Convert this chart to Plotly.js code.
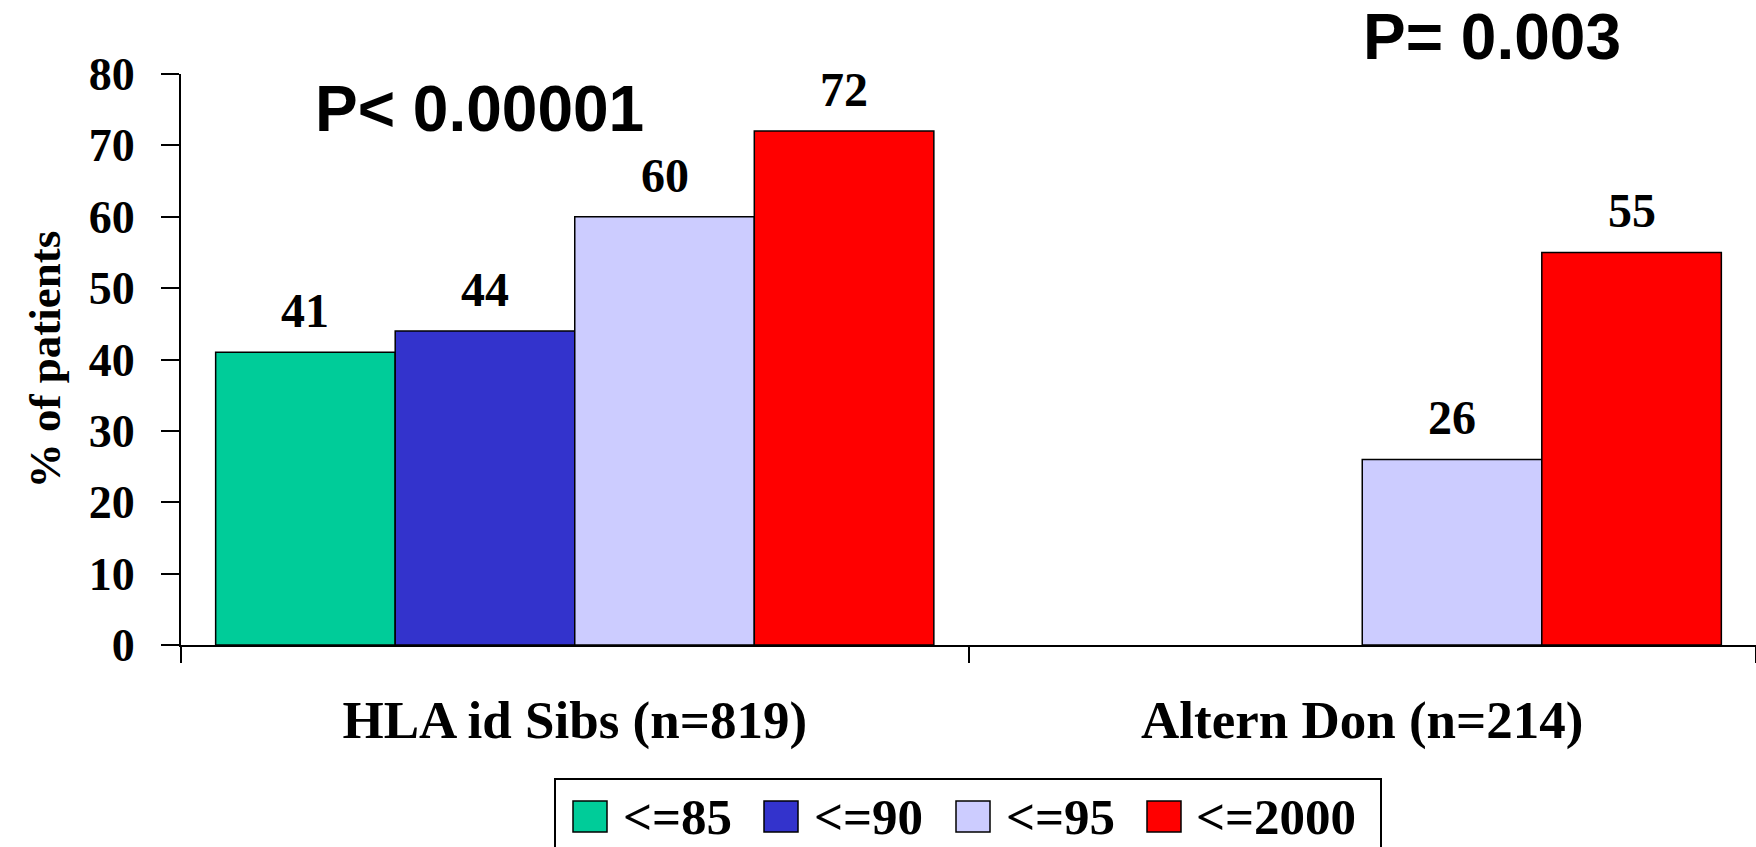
<!DOCTYPE html>
<html>
<head>
<meta charset="utf-8">
<script src="https://cdn.plot.ly/plotly-3.0.1.min.js"></script>
<style>
  html, body { margin: 0; padding: 0; background: #ffffff; }
  #chart { width: 1756px; height: 847px; }
</style>
</head>
<body>
<div id="chart"></div>
<script>
// Donor groups on the x axis
const groups = ["HLA id Sibs (n=819)", "Altern Don (n=214)"];
// Period series (legend labels)
const seriesNames = ["<=85", "<=90", "<=95", "<=2000"];
// % of patients per group, one array per period
const le85 = [41, null];
const le90 = [44, null];
const le95 = [60, 26];
const le2000 = [72, 55];
// P values written over each group
const pLabels = ["P< 0.00001", "P= 0.003"];
// y axis ticks
const yTicks = [0, 10, 20, 30, 40, 50, 60, 70, 80];

const seriesValues = [le85, le90, le95, le2000];
const seriesColors = ["#00CC99", "#3333CC", "#CCCCFF", "#FF0000"];

const W = 1756, H = 847;
const M = { l: 181, r: 0, t: 74, b: 202 };
const plotW = W - M.l - M.r, plotH = H - M.t - M.b;
const px2x = p => (p - M.l) / plotW;
const px2y = p => (H - M.b - p) / plotH;

const serif = "Liberation Serif, Times New Roman, serif";
const sans = "Liberation Sans, Arial, sans-serif";
const esc = s => s.replace(/</g, "&lt;");

const BARGAP = 0.088;

const traces = seriesNames.map((name, i) => ({
  type: "bar",
  name: name,
  x: groups,
  y: seriesValues[i],
  marker: { color: seriesColors[i], line: { color: "#000000", width: 1.5 } },
  showlegend: false,
  hoverinfo: "name+y"
}));

const annotations = [];
const slot = (1 - BARGAP) / seriesNames.length;
seriesValues.forEach((vals, i) => {
  vals.forEach((v, g) => {
    if (v === null) return;
    annotations.push({
      x: g + (i - (seriesNames.length - 1) / 2) * slot,
      y: v,
      xref: "x", yref: "y",
      text: String(v),
      showarrow: false,
      yanchor: "bottom",
      yshift: 13,
      font: { family: serif, size: 48, color: "#000000", weight: "bold" }
    });
  });
});

// P-value headings
const pPos = [[313, 109], [1361, 37]];
pLabels.forEach((t, i) => {
  annotations.push({
    x: px2x(pPos[i][0]), y: px2y(pPos[i][1]),
    xref: "paper", yref: "paper",
    xanchor: "left", yanchor: "middle",
    text: esc(t),
    showarrow: false,
    font: { family: sans, size: 64, color: "#000000", weight: "bold" }
  });
});

// Legend drawn as a framed row of swatches and labels
const shapes = [];
shapes.push({
  type: "rect", xref: "paper", yref: "paper",
  x0: px2x(555), x1: px2x(1381), y0: px2y(779), y1: px2y(930),
  line: { color: "#000000", width: 2 }, fillcolor: "rgba(0,0,0,0)"
});
const swatchLeft = [573, 764, 956, 1147];
const textLeft = [621, 812, 1004, 1194];
seriesNames.forEach((name, i) => {
  shapes.push({
    type: "rect", xref: "paper", yref: "paper",
    x0: px2x(swatchLeft[i]), x1: px2x(swatchLeft[i] + 34),
    y0: px2y(832), y1: px2y(801),
    line: { color: "#000000", width: 1.5 }, fillcolor: seriesColors[i]
  });
  annotations.push({
    x: px2x(textLeft[i]), y: px2y(817),
    xref: "paper", yref: "paper",
    xanchor: "left", yanchor: "middle",
    text: esc(name),
    showarrow: false,
    font: { family: serif, size: 51, color: "#000000", weight: "bold" }
  });
});

const layout = {
  width: W, height: H,
  margin: M,
  paper_bgcolor: "#ffffff",
  plot_bgcolor: "#ffffff",
  barmode: "group",
  bargap: BARGAP,
  bargroupgap: 0,
  showlegend: false,
  xaxis: {
    type: "category",
    range: [-0.5, 1.5],
    showline: true, linecolor: "#000000", linewidth: 2,
    ticks: "outside", tickson: "boundaries", ticklen: 16, tickwidth: 2, tickcolor: "#000000",
    ticklabelstandoff: 27,
    tickfont: { family: serif, size: 53, color: "#000000", weight: "bold" },
    showgrid: false, zeroline: false, fixedrange: true
  },
  yaxis: {
    range: [0, 80],
    tickvals: yTicks,
    ticktext: yTicks.map(String),
    showline: true, linecolor: "#000000", linewidth: 2,
    ticks: "outside", ticklen: 18, tickwidth: 2, tickcolor: "#000000",
    ticklabelstandoff: 17,
    tickfont: { family: serif, size: 46, color: "#000000", weight: "bold" },
    title: { text: "% of patients", standoff: 14,
             font: { family: serif, size: 45, color: "#000000", weight: "bold" } },
    showgrid: false, zeroline: false, fixedrange: true
  },
  annotations: annotations,
  shapes: shapes
};

Plotly.newPlot("chart", traces, layout, { displayModeBar: false, staticPlot: true });
</script>
</body>
</html>
